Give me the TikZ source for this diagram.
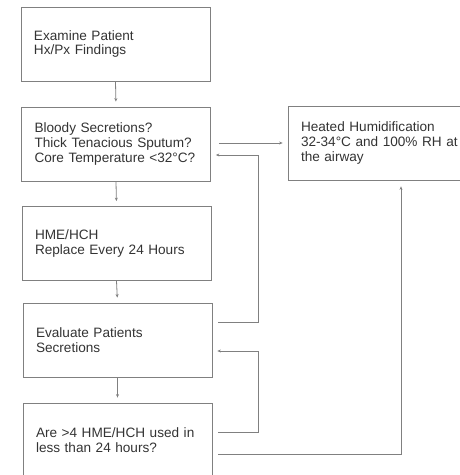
\documentclass[tikz,border=0pt]{standalone}
\usepackage{fontspec}
\setmainfont{Liberation Sans}
\usetikzlibrary{arrows.meta}
\definecolor{ln}{HTML}{808080}
\definecolor{tx}{HTML}{333333}
\begin{document}
\begin{tikzpicture}[x=1pt,y=-1pt,
  box/.style={draw=ln, line width=0.8pt, rectangle, minimum width=189pt, minimum height=74pt,
    text width=163pt, inner xsep=13pt, align=left, text=tx,
    font=\fontsize{13.6}{14.7}\selectfont},
  conn/.style={draw=ln, line width=0.8pt, -{Stealth[length=3.5pt,width=3pt]}},
  ]
\useasboundingbox (0,0) rectangle (460,475);
\clip (0,0) rectangle (460,475);
\node[box] (b1) at (115.5,44) {Examine Patient\\Hx/Px Findings};
\node[box] (b2) at (116,144) {\mbox{Bloody Secretions?}\\\mbox{Thick Tenacious Sputum?}\\\mbox{Core Temperature <32°C?}};
\node[box] (b3) at (116.5,243.5) {HME/HCH\\\mbox{Replace Every 24 Hours}};
\node[box] (b4) at (117.5,340) {Evaluate Patients\\Secretions};
\node[box] (b5) at (117.5,440) {\mbox{Are >4 HME/HCH used in}\\\mbox{less than 24 hours?}};
\node[box] (h) at (382.5,143) {\mbox{Heated Humidification}\\\mbox{32-34°C and 100\% RH at}\\the airway};
\coordinate (c1) at (258,322);
\coordinate (c2) at (258,155);
\coordinate (c3) at (258,432);
\coordinate (c4) at (258,351);
\coordinate (c5) at (401,454);
\draw[conn, shorten >=5pt] (b1.south) -- (b2.north);
\draw[conn, shorten >=5pt] (b2.south) -- (b3.north);
\draw[conn, shorten >=5pt] (b3.south) -- (b4.north);
\draw[conn, shorten >=5pt] (b4.south) -- (b5.north);
\draw[conn, shorten <=8pt, shorten >=5pt] (b2.east |- 0,143) -- (h.west |- 0,143);
\draw[conn, shorten <=6pt, shorten >=5pt] (c1 -| b4.east) -- (c1) -- (c2) -- (c2 -| b2.east);
\draw[conn, shorten <=6pt, shorten >=5pt] (c3 -| b5.east) -- (c3) -- (c4) -- (c4 -| b4.east);
\draw[conn, shorten <=6pt, shorten >=6pt] (c5 -| b5.east) -- (c5) -- (c5 |- h.south);
\end{tikzpicture}
\end{document}
